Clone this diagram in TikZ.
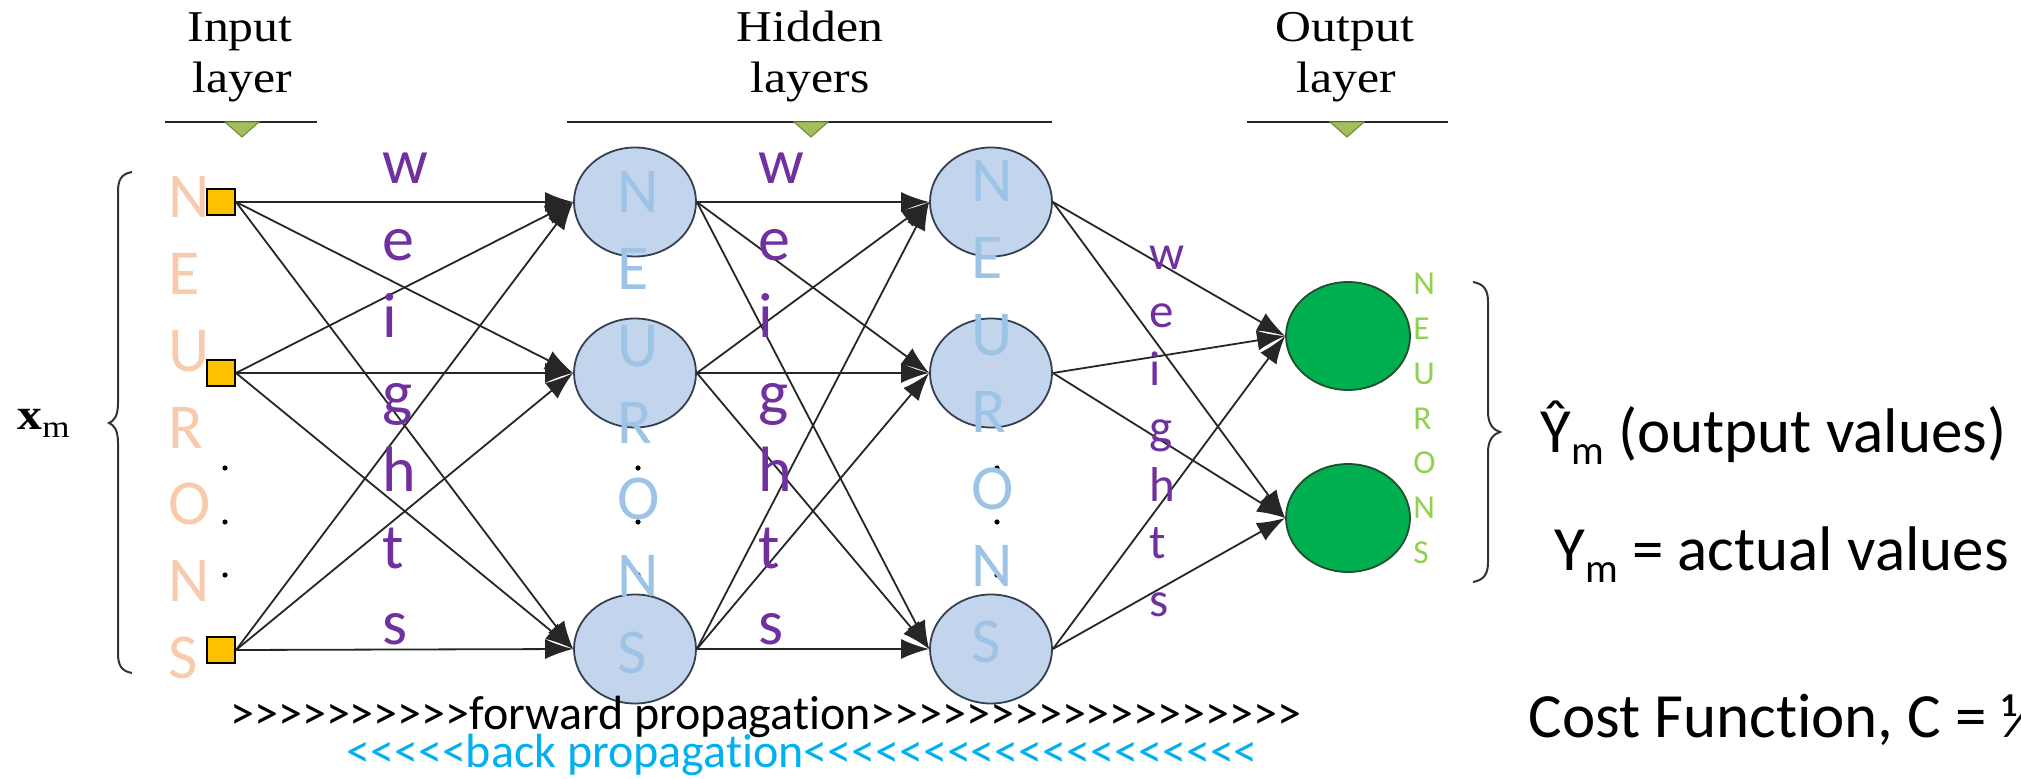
\documentclass[tikz,border=0pt]{standalone}
\usepackage{fontspec}
\setmainfont{Carlito}[Ligatures={TeXOff,NoCommon}]
\newfontfamily\seriffont{Liberation Serif}
\usetikzlibrary{arrows.meta,shapes.geometric}

\definecolor{inputgold}{HTML}{FFC000}
\definecolor{hiddenfill}{HTML}{C3D5EC}
\definecolor{hiddenline}{HTML}{34404F}
\definecolor{outfill}{HTML}{00B050}
\definecolor{outline}{HTML}{1F4F2F}
\definecolor{markgreen}{HTML}{A3BE5A}
\definecolor{markline}{HTML}{6C8638}
\definecolor{neuronorange}{HTML}{F8CBAD}
\definecolor{neuronblue}{HTML}{9DC3E6}
\definecolor{neurongreen}{HTML}{92D050}
\definecolor{weightpurple}{HTML}{7030A0}
\definecolor{backblue}{HTML}{00B0F0}

\tikzset{
  inbox/.style={rectangle, draw=black, line width=1pt, fill=inputgold,
    minimum width=14pt, minimum height=13pt, inner sep=0pt},
  hidn/.style={ellipse, draw=hiddenline, line width=0.9pt, fill=hiddenfill,
    minimum width=61pt, minimum height=54.5pt, inner sep=0pt},
  outn/.style={ellipse, draw=outline, line width=0.9pt, fill=outfill,
    minimum width=62pt, minimum height=54pt, inner sep=0pt},
  link/.style={-{Latex[length=14pt,width=10pt]}, line width=0.9pt, draw=black!85},
  headtxt/.style={anchor=base, inner sep=0pt, font=\seriffont\fontsize{22}{22}\selectfont},
  bigletter/.style={anchor=base west, inner sep=0pt, font=\fontsize{32}{32}\selectfont},
  midletter/.style={anchor=base west, inner sep=0pt, font=\fontsize{24.5}{24.5}\selectfont},
  smallletter/.style={anchor=base west, inner sep=0pt, font=\fontsize{16.75}{16.75}\selectfont},
  sidetxt/.style={anchor=base west, inner sep=0pt, font=\fontsize{31.5}{31.5}\selectfont},
  proptxt/.style={anchor=base west, inner sep=0pt, font=\fontsize{24}{24}\selectfont},
  bracestyle/.style={draw=black!80, line width=1pt},
  layerline/.style={draw=black!85, line width=1.1pt},
  layermark/.style={fill=markgreen, draw=markline, line width=0.5pt}
}

\begin{document}
\begin{tikzpicture}[x=0.5pt,y=-0.5pt]
\useasboundingbox (0,0) rectangle (2021,779);
\fill[white] (0,0) rectangle (2021,779);

% layer headings
\node[headtxt] (hin1) at (240,42) {\scalebox{1.13}[1]{Input}};
\node[headtxt] (hin2) at (242,93) {\scalebox{1.13}[1]{layer}};
\node[headtxt] (hhid1) at (810,42) {\scalebox{1.13}[1]{Hidden}};
\node[headtxt] (hhid2) at (810,93) {\scalebox{1.13}[1]{layers}};
\node[headtxt] (hout1) at (1345,42) {\scalebox{1.13}[1]{Output}};
\node[headtxt] (hout2) at (1346,93) {\scalebox{1.13}[1]{layer}};

\draw[layerline] (165,122) -- (317,122);
\draw[layermark] (225,122) -- (259,122) -- (242,137) -- cycle;
\draw[layerline] (567,122) -- (1052,122);
\draw[layermark] (794,122) -- (828,122) -- (811,137) -- cycle;
\draw[layerline] (1247,122) -- (1448,122);
\draw[layermark] (1330,122) -- (1364,122) -- (1347,137) -- cycle;

% input label and brace
\node[anchor=base west, inner sep=0pt, font=\seriffont\fontsize{22}{22}\selectfont]
  (xm) at (17,430) {\scalebox{1.13}[1]{\textbf{x}\raisebox{-4pt}{\fontsize{15.5}{15.5}\selectfont m}}};
\draw[bracestyle] (132,172) .. controls (121,174) and (118,180) .. (118,192)
  -- (118,403) .. controls (118,416) and (114,421) .. (109,423)
  .. controls (114,425) and (118,430) .. (118,443)
  -- (118,653) .. controls (118,665) and (121,671) .. (132,673);

% neurons
\node[inbox] (i1) at (221,202) {};
\node[inbox] (i2) at (221,373) {};
\node[inbox] (i3) at (221,650) {};
\node[hidn] (a1) at (635,202) {};
\node[hidn] (a2) at (635,373) {};
\node[hidn] (a3) at (635,649) {};
\node[hidn] (b1) at (991,202) {};
\node[hidn] (b2) at (991,373) {};
\node[hidn] (b3) at (991,649) {};
\node[outn] (o1) at (1348,336) {};
\node[outn] (o2) at (1348,518) {};

% weighted connections
\foreach \s in {i1,i2,i3} \foreach \t in {a1,a2,a3} \draw[link] (\s.east) -- (\t.west);
\foreach \s in {a1,a2,a3} \foreach \t in {b1,b2,b3} \draw[link] (\s.east) -- (\t.west);
\foreach \s in {b1,b2,b3} \foreach \t in {o1,o2} \draw[link] (\s.east) -- (\t.west);

% ellipsis dots
\foreach \yy in {468,522,575} {
  \fill (225,\yy) circle (1.3pt);
  \fill (638,\yy) circle (1.3pt);
  \fill (997,\yy) circle (1.3pt);
}

% vertical letter columns
\foreach \c [count=\k from 0] in {N,E,U,R,O,N,S}
  \node[bigletter, text=neuronorange] (nin\k) at (168,{218+76.7*\k}) {\c};
\foreach \c [count=\k from 0] in {N,E,U,R,O,N,S}
  \node[bigletter, text=neuronblue] (nha\k) at (617,{213+76.7*\k}) {\c};
\foreach \c [count=\k from 0] in {N,E,U,R,O,N,S}
  \node[bigletter, text=neuronblue] (nhb\k) at (971,{202+76.8*\k}) {\c};
\foreach \c [count=\k from 0] in {N,E,U,R,O,N,S}
  \node[smallletter, text=neurongreen] (nout\k) at (1413,{295+44.7*\k}) {\c};

\foreach \c [count=\k from 0] in {w,e,i,g,h,t,s}
  \node[bigletter, text=weightpurple] (wa\k) at (382,{184+76.8*\k}) {\c};
\foreach \c [count=\k from 0] in {w,e,i,g,h,t,s}
  \node[bigletter, text=weightpurple] (wb\k) at (758,{184+76.8*\k}) {\c};
\foreach \c [count=\k from 0] in {w,e,i,g,h,t,s}
  \node[midletter, text=weightpurple] (wc\k) at (1149,{270+57.8*\k}) {\c};

% output brace
\draw[bracestyle] (1473,282) .. controls (1484,284) and (1488,290) .. (1488,302)
  -- (1488,412) .. controls (1488,425) and (1494,430) .. (1500,432)
  .. controls (1494,434) and (1488,439) .. (1488,452)
  -- (1488,562) .. controls (1488,574) and (1484,580) .. (1473,582);

% output side texts
\node[sidetxt] (yhat) at (1540,453) {Ŷ\raisebox{-6pt}{\fontsize{20.5}{20.5}\selectfont m} (output values)};
\node[sidetxt] (yact) at (1554,570) {Y\raisebox{-6pt}{\fontsize{20.5}{20.5}\selectfont m} = actual values};
\node[sidetxt] (cost) at (1528,737) {Cost Function, C = ½};

% propagation directions
\node[proptxt] (fwd) at (230,729) {>>>>>>>>>>forward propagation>>>>>>>>>>>>>>>>>>};
\node[proptxt, text=backblue] (bwd) at (346,767) {<<<<<back propagation<<<<<<<<<<<<<<<<<<<};
\end{tikzpicture}
\end{document}
